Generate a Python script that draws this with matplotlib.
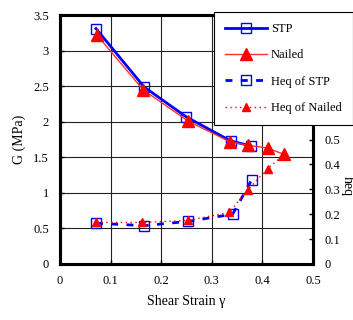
import matplotlib
matplotlib.use("Agg")
import matplotlib.pyplot as plt

plt.rcParams["font.family"] = ["Liberation Serif", "DejaVu Serif"]
plt.rcParams["font.size"] = 9

# shear modulus G (MPa) vs shear strain
stp_strain = [0.071, 0.166, 0.249, 0.337, 0.377]
stp_g = [3.31, 2.49, 2.07, 1.73, 1.66]
nailed_strain = [0.073, 0.164, 0.253, 0.335, 0.371, 0.410, 0.443]
nailed_g = [3.22, 2.45, 2.01, 1.72, 1.67, 1.63, 1.54]

# equivalent damping ratio heq vs shear strain
heq_stp_strain = [0.071, 0.166, 0.252, 0.341, 0.379]
heq_stp = [0.164, 0.154, 0.171, 0.200, 0.339]
heq_nailed_strain = [0.072, 0.161, 0.252, 0.334, 0.371, 0.410, 0.443]
heq_nailed = [0.167, 0.167, 0.175, 0.207, 0.298, 0.383, 0.44]

x_ticks = [0, 0.1, 0.2, 0.3, 0.4, 0.5]
x_labels = ["0", "0.1", "0.2", "0.3", "0.4", "0.5"]
g_ticks = [0, 0.5, 1, 1.5, 2, 2.5, 3, 3.5]
g_labels = ["0", "0.5", "1", "1.5", "2", "2.5", "3", "3.5"]
heq_ticks = [0, 0.1, 0.2, 0.3, 0.4, 0.5, 0.6, 0.7, 0.8, 0.9, 1.0]
# labels above 0.5 sit behind the legend box
heq_labels = ["0", "0.1", "0.2", "0.3", "0.4", "0.5", "", "", "", "", ""]

fig = plt.figure(figsize=(3.53, 3.2), dpi=100)
ax = fig.add_axes([0.170, 0.175, 0.717, 0.778])
ax2 = ax.twinx()

h1, = ax.plot(stp_strain, stp_g, color="#0000FF", lw=2.0, marker="s", ms=7,
              mfc="none", mec="#0000FF", mew=1.0, label="STP", zorder=3)
h2, = ax.plot(nailed_strain, nailed_g, color="#FF3030", lw=1.0, marker="^", ms=8,
              mfc="#FF0000", mec="#FF0000", label="Nailed", zorder=4)
h3, = ax2.plot(heq_stp_strain, heq_stp, color="#0000FF", lw=2.0, ls=(0, (2.5, 3)),
               marker="s", ms=7, mfc="none", mec="#0000FF", mew=1.0,
               label="Heq of STP")
h4, = ax2.plot(heq_nailed_strain, heq_nailed, color="#FF0000", lw=1.0, ls=(0, (1, 2.5)),
               marker="^", ms=6, mfc="#FF0000", mec="#FF0000",
               label="Heq of Nailed")

ax.set_xlim(0, 0.5)
ax.set_ylim(0, 3.5)
ax2.set_ylim(0, 1.0)
ax.set_xticks(x_ticks)
ax.set_xticklabels(x_labels)
ax.set_yticks(g_ticks)
ax.set_yticklabels(g_labels)
ax2.set_yticks(heq_ticks)
ax2.set_yticklabels(heq_labels)

ax.grid(True, color="#222222", lw=0.8)
ax.set_axisbelow(True)
for a in (ax, ax2):
    for s in a.spines.values():
        s.set_linewidth(2.2)
        s.set_color("black")
ax.tick_params(direction="in", length=3, width=1, pad=8)
ax2.tick_params(direction="in", length=3, width=1, pad=8)

ax.set_xlabel("Shear Strain γ", fontsize=10, labelpad=6)
ax.set_ylabel("G (MPa)", fontsize=10, labelpad=5)
fig.text(0.983, 0.42, "heq", rotation=270, fontsize=10, ha="center", va="center")

leg = ax2.legend(handles=[h1, h2, h3, h4], loc="upper right",
                 bbox_to_anchor=(1.0, 0.963), bbox_transform=fig.transFigure,
                 borderaxespad=0, fancybox=False, edgecolor="black", framealpha=1.0,
                 handlelength=3.4, labelspacing=1.15, borderpad=0.9,
                 handletextpad=0.3, fontsize=9)
leg.get_frame().set_linewidth(0.8)
leg.set_zorder(10)

fig.savefig("out.png", dpi=100)
